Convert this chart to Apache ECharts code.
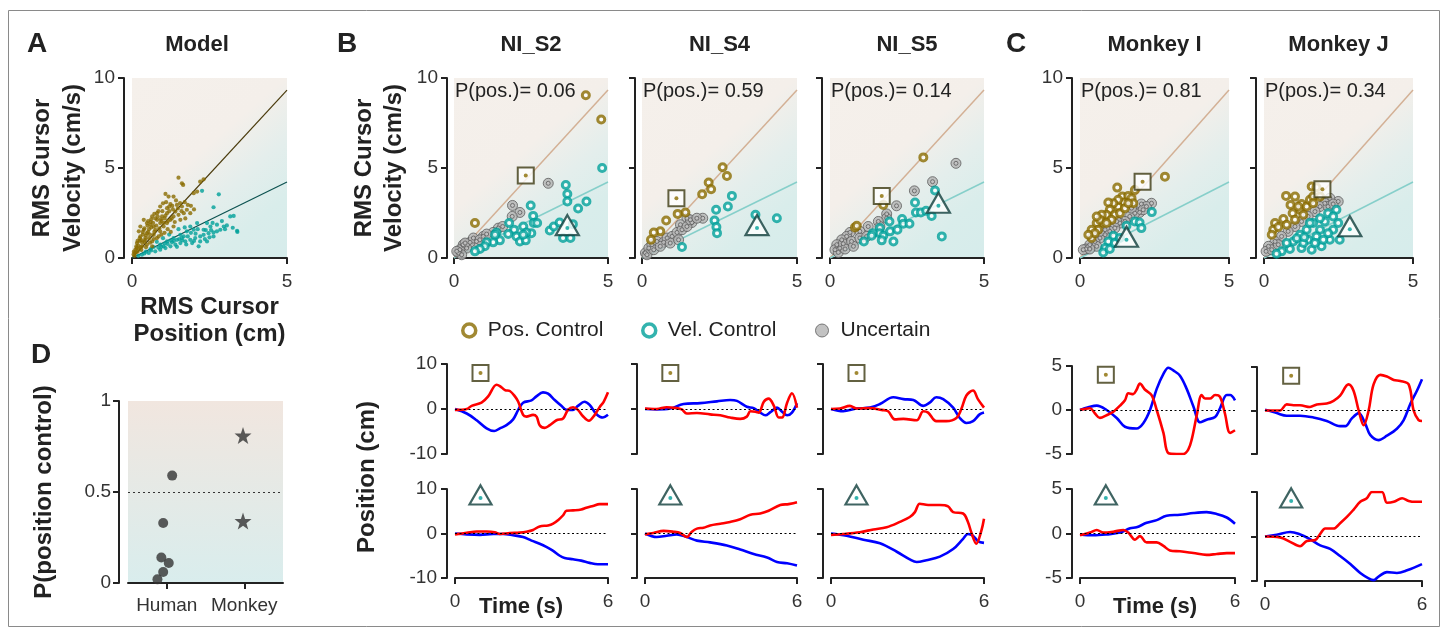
<!DOCTYPE html>
<html><head><meta charset="utf-8">
<script src="https://cdn.jsdelivr.net/npm/echarts@6/dist/echarts.min.js"></script>
<style>html,body{margin:0;padding:0;background:#fff}#c{width:1448px;height:635px}</style>
</head><body><div id="c"></div>
<script>
// ---------------- DATA ----------------
const modelPos = [[1.5,4.46],[1.61,4.15],[1.65,4.06],[2.2,4.24],[2.31,4.37],[2.1,3.69],[1.99,3.6],[1.08,3.56],[1.18,3.41],[1.34,3.41],[1.0,3.04],[1.24,3.0],[1.45,2.95],[1.61,2.86],[1.77,2.68],[1.88,2.49],[0.91,2.86],[0.81,2.49],[0.65,2.31],[0.48,1.94],[0.38,1.57],[0.27,1.2],[0.16,0.83],[1.13,2.49],[1.34,2.31],[1.56,2.12],[0.7,1.75],[0.91,1.94],[1.13,1.94],[1.34,1.75],[0.48,1.38],[0.7,1.29],[0.91,1.48],[0.32,0.65],[0.48,0.74],[0.65,0.92],[0.11,0.46],[0.22,0.5],[1.13,2.77],[1.4,2.58],[0.81,2.12],[0.59,1.85],[0.43,1.11],[1.67,2.49],[0.97,2.31],[0.75,1.57],[1.24,2.12],[0.38,2.12],[0.27,1.75],[0.22,1.48],[1.02,1.75],[0.86,1.2],[0.65,0.65],[0.05,0.2],[0.1,0.3],[0.15,0.55],[0.2,0.7],[0.25,0.95],[0.3,1.0],[0.35,1.3],[0.55,1.6],[0.6,2.0],[0.75,2.2],[0.85,2.6],[0.95,2.05],[1.05,2.2],[1.2,2.6],[1.3,2.9],[1.5,2.4],[1.72,2.2],[1.9,2.9],[2.0,2.7],[0.55,1.1],[0.4,0.9],[0.3,0.45],[1.15,1.6],[1.25,1.45],[0.12,0.3],
  [0.08,0.12],[0.18,0.35],[0.28,0.6],[0.33,0.85],[0.42,1.0],[0.45,1.25],[0.52,1.45],[0.58,1.3],[0.62,1.7],[0.68,1.95],[0.72,1.45],[0.78,1.8],[0.83,2.3],[0.88,1.65],[0.93,2.15],[0.98,2.6],[1.03,1.95],[1.08,2.35],[1.1,3.1],[1.16,2.05],[1.2,2.85],[1.28,2.2],[1.32,2.7],[1.38,2.0],[1.42,3.2],[1.48,2.75],[1.55,3.05],[1.6,2.6],[1.7,3.1],[1.8,2.95],[0.4,1.65],[0.5,1.8],[0.35,1.45],[0.25,1.1],[0.18,0.95],[0.14,0.65],[0.06,0.35],[0.45,0.6],[0.58,0.85],[0.7,1.05],[0.8,1.1],[0.95,1.3],[1.05,1.4],[0.62,2.15],[0.72,2.45],[0.52,2.05]];
const modelVel = [[2.26,3.73],[2.8,3.54],[2.63,2.82],[3.28,2.34],[3.17,2.31],[3.39,1.51],[3.06,1.81],[2.96,1.75],[2.85,1.57],[2.74,1.48],[2.63,1.42],[2.47,1.38],[2.31,1.29],[2.2,1.2],[2.42,0.92],[2.2,0.92],[2.04,1.11],[1.88,1.01],[1.72,0.92],[1.56,0.83],[1.4,0.74],[1.24,0.65],[1.08,0.55],[0.91,0.46],[0.75,0.37],[0.54,0.28],[0.32,0.18],[1.99,1.57],[1.77,1.48],[1.56,1.29],[1.34,1.11],[1.13,0.92],[0.91,0.74],[0.7,0.61],[2.1,1.94],[1.88,1.75],[1.67,1.2],[1.45,1.01],[2.31,1.57],[2.53,1.75],[2.74,1.85],[2.42,1.94],[1.94,0.83],[2.63,1.2],[1.61,1.11],[1.29,0.87],[1.02,0.65],[2.15,0.65],[3.4,1.45],[1.2,1.3],[1.0,1.1],[0.8,0.9],[0.6,0.5],[0.45,0.35],[1.5,1.6],[1.7,1.7],[0.2,0.12],
  [0.4,0.25],[0.62,0.42],[0.85,0.58],[1.15,0.78],[1.35,0.95],[1.52,1.05],[1.8,1.2],[1.9,1.4],[2.05,1.35],[2.12,1.6],[2.38,1.55],[2.55,1.55],[2.6,1.95],[2.9,2.05],[2.35,1.05],[1.45,0.62],[1.75,0.75],[2.0,0.95],[1.05,0.8],[1.25,0.98],[0.95,0.62],[1.62,0.98],[2.5,1.15],[3.0,1.6],[3.25,1.68]];

const panelTitles = ['NI_S2','NI_S4','NI_S5','Monkey I','Monkey J'];
const pPos = [0.06, 0.59, 0.14, 0.81, 0.34];
const posLineEnd = 9.33;   // y of position-control line at x = 5
const velLineEnd = 4.22;   // y of velocity-control line at x = 5

const s2Pos = [[0.68,1.94],[4.28,9.04],[4.78,7.69]];
const s2Vel = [[4.81,5.0],[3.63,4.06],[3.68,3.56],[3.68,3.14],[4.30,3.14],[4.03,2.75],[2.49,2.92],[2.57,2.34],[2.59,1.94],[2.7,1.94],[2.25,1.75],[1.95,1.57],[1.79,1.94],[1.76,1.33],[2.03,1.2],[2.14,0.92],[2.33,0.98],[2.51,1.38],[2.35,1.42],[1.38,1.42],[1.49,0.98],[1.27,0.87],[1.06,0.87],[1.0,0.65],[0.84,0.5],[0.68,0.37],[3.11,1.53],[3.24,1.75],[3.43,1.97],[3.54,1.11],[3.78,1.11],[3.86,1.88],[1.33,1.29],[2.25,1.29]];
const s2Unc = [[3.06,4.15],[1.9,2.92],[2.14,2.53],[1.89,2.31],[1.44,1.66],[1.58,1.75],[1.27,1.42],[0.95,1.2],[0.73,0.92],[0.52,0.87],[0.3,0.74],[0.41,0.55],[0.19,0.46],[0.14,0.28],[0.25,0.18],[0.63,1.11],[1.06,1.33],[0.84,1.01],[0.36,0.83],[0.09,0.37]];
const s2Sq = [2.33,4.58], s2Tri = [3.68,1.66];

const s4Pos = [[2.6,5.04],[2.74,4.56],[2.15,4.19],[2.23,3.82],[1.94,3.54],[1.4,2.53],[1.15,2.45],[0.78,2.08],[0.59,1.48],[0.38,1.42],[0.29,1.01]];
const s4Vel = [[2.9,3.45],[2.77,2.86],[2.39,2.68],[2.34,2.08],[2.4,1.72],[2.42,1.38],[3.66,2.4],[4.35,2.21],[1.29,0.61]];
const s4Unc = [[1.96,2.21],[1.61,1.97],[1.45,2.21],[1.24,1.85],[0.11,0.28],[0.22,0.55],[0.32,0.74],[0.48,0.92],[0.7,0.87],[0.81,1.11],[0.97,1.2],[1.13,1.42],[1.29,1.57],[1.45,1.75],[1.56,2.12],[0.16,0.18],[0.38,0.46],[0.59,0.65],[0.91,0.83],[1.18,1.01],[1.77,2.21]];
const s4Sq = [1.11,3.32], s4Tri = [3.71,1.66];

const s5Pos = [[3.03,5.59],[0.81,1.7],[0.87,1.79],[1.73,2.95]];
const s5Vel = [[3.41,3.75],[2.76,3.08],[2.79,2.53],[2.95,2.53],[3.12,2.62],[3.3,2.34],[2.34,2.16],[2.38,1.9],[2.58,1.9],[1.93,2.03],[1.62,1.66],[1.6,1.38],[1.39,1.38],[1.35,1.24],[1.73,1.24],[1.95,1.48],[2.19,1.57],[2.06,0.92],[1.68,0.98],[1.1,0.92],[3.63,1.2]];
const s5Unc = [[4.09,5.26],[3.33,4.24],[2.74,3.73],[2.16,2.9],[1.84,2.45],[1.84,2.21],[1.57,2.03],[1.24,1.75],[0.97,1.48],[0.65,1.42],[0.54,1.2],[0.38,1.01],[0.22,0.74],[0.16,0.46],[0.32,0.55],[0.43,0.79],[0.7,0.92],[0.97,1.11],[1.19,1.2],[1.62,1.75],[0.27,0.31],[0.49,0.5],[0.76,0.65]];
const s5Sq = [1.68,3.45], s5Tri = [3.52,2.9];

const mIPos = [[2.85,4.52],[1.25,3.91],[1.42,3.41],[1.62,3.45],[1.73,3.32],[1.84,3.78],[1.79,3.04],[1.47,3.08],[1.28,2.86],[1.28,3.23],[1.12,3.04],[0.95,3.08],[1.0,2.68],[1.17,2.4],[0.89,2.4],[0.73,2.4],[0.78,1.94],[0.56,1.94],[0.61,1.57],[0.39,1.57],[0.39,1.11],[0.5,1.38],[0.67,2.12],[1.06,2.12],[1.34,2.49],[1.51,2.77],[1.62,3.04],[0.56,2.31],[0.28,1.29],[0.89,1.94]];
const mIUnc = [[2.4,3.04],[2.06,3.0],[2.0,2.53],[1.84,2.49],[1.67,2.31],[1.51,2.03],[1.34,1.94],[1.17,1.66],[1.0,1.48],[0.84,1.29],[0.67,1.11],[0.5,0.92],[0.33,0.74],[0.2,0.5],[0.11,0.46],[0.56,0.65],[0.33,0.5],[1.73,2.77],[2.23,2.86],[1.23,2.03],[0.84,1.57],[0.67,1.48],[2.12,2.68]];
const mIVel = [[2.41,2.55],[1.84,2.03],[2.0,1.97],[2.06,1.66],[1.56,1.79],[1.12,1.24],[0.95,0.92],[0.84,0.55],[0.78,0.31],[1.0,0.5],[1.17,0.83],[1.34,1.11]];
const mISq = [2.1,4.24], mITri = [1.56,1.01];

const mJPos = [[0.74,3.45],[1.04,3.41],[1.6,3.97],[1.76,3.93],[0.89,2.95],[1.26,3.0],[0.37,1.94],[0.65,2.16],[0.96,2.49],[1.21,2.68],[1.43,2.86],[1.54,3.23],[1.65,3.41],[0.31,1.57],[0.48,1.72],[0.76,1.85],[1.04,2.12],[1.32,2.4],[1.15,2.86],[0.26,1.29],[1.65,3.04],[1.88,3.41]];
const mJUnc = [[2.49,3.14],[2.21,3.32],[2.04,3.04],[1.88,2.86],[1.71,2.58],[1.48,2.31],[1.26,2.03],[1.04,1.75],[0.81,1.48],[0.59,1.2],[0.37,0.92],[0.15,0.65],[0.07,0.37],[0.26,0.46],[0.48,0.74],[2.15,2.86],[2.32,3.0]];
const mJVel = [[2.43,2.68],[2.15,2.49],[2.32,2.31],[2.49,1.94],[2.54,1.01],[2.21,1.01],[1.93,0.65],[1.6,0.46],[1.26,0.55],[0.87,0.5],[0.59,0.37],[0.42,0.24],[1.88,1.57],[1.65,1.94],[1.43,1.57],[1.21,1.29],[0.98,0.92],[0.76,0.83],[2.04,2.03],[1.76,1.2],[1.48,1.01],[2.32,1.57],[2.15,1.38],[1.88,2.21],[1.54,1.94],[1.71,0.83],[1.32,0.83],[1.99,1.01],[1.1,1.1],[1.35,1.15]];
const mJSq = [1.96,3.82], mJTri = [2.88,1.6];

// trajectories: [time (s), position (cm)]
const s2TopRed = [[0,-0.2],[0.46,0],[0.65,0.7],[1.04,1.4],[1.3,2.8],[1.63,5.4],[1.76,5.1],[1.96,4.2],[2.15,4.0],[2.35,2.8],[2.48,1.6],[2.67,-1.3],[2.8,-1.7],[3.06,-1.3],[3.2,-1.7],[3.32,-3.6],[3.52,-4.2],[3.72,-3.6],[3.98,-2.5],[4.24,-2.1],[4.43,-0.2],[4.63,0.4],[4.82,-0.2],[5.02,-1.6],[5.25,-2.6],[5.48,-1.3],[5.67,0.4],[5.83,1.6],[6.0,3.7]];
const s2TopBlue = [[0,0],[0.46,-1],[0.85,-2.5],[1.24,-4.3],[1.54,-4.9],[1.76,-4.3],[2.02,-3.6],[2.28,-2.3],[2.48,-0.2],[2.67,1.4],[3.0,1.9],[3.19,2.8],[3.45,3.7],[3.65,3.4],[3.91,2.0],[4.17,0.7],[4.37,-0.2],[4.63,-0.2],[4.82,0.7],[5.08,1.6],[5.28,0.9],[5.54,-1.1],[5.8,-1.9],[6.0,-1.3]];
const s2BotRed = [[0,-0.2],[0.46,0.15],[0.85,0.45],[1.24,0.45],[1.56,0.3],[1.76,-0.1],[2.15,0.1],[2.54,0.2],[2.8,0.4],[3.06,0.8],[3.32,1.6],[3.65,1.8],[3.85,2.2],[4.04,3.0],[4.24,4.1],[4.37,5.1],[4.63,5.2],[4.95,5.4],[5.15,5.8],[5.41,6.2],[5.67,6.6],[6,6.6]];
const s2BotBlue = [[0,0],[0.46,-0.2],[0.98,-0.3],[1.5,-0.1],[1.89,-0.1],[2.28,-0.4],[2.67,-0.8],[3.0,-1.6],[3.32,-2.3],[3.58,-3.0],[3.85,-3.9],[4.11,-5.0],[4.3,-5.5],[4.63,-5.8],[4.95,-6.1],[5.28,-6.6],[5.6,-6.9],[6,-6.9]];
const s4TopBlue = [[0,0],[0.46,-0.1],[0.99,0.1],[1.52,1.1],[2.18,1.3],[2.84,1.7],[3.36,2.0],[3.63,1.8],[4.02,0.5],[4.29,0.2],[4.55,-0.8],[4.75,-1.4],[4.95,-0.7],[5.21,0.3],[5.41,-0.6],[5.61,-1.4],[5.8,-0.8],[6,1.3]];
const s4TopRed = [[0,0.1],[0.46,0],[0.86,0.4],[1.25,0.2],[1.45,-0.1],[1.65,-1.0],[2.05,-0.9],[2.57,-1.2],[2.97,-1.4],[3.36,-1.9],[3.76,-2.2],[4.02,-1.7],[4.16,-0.5],[4.36,-0.6],[4.49,-0.8],[4.69,1.6],[4.88,2.3],[5.08,0.8],[5.28,-1.9],[5.41,-1.9],[5.61,1.4],[5.8,3.5],[6,0.3]];
const s4BotRed = [[0,-0.2],[0.33,0.1],[0.73,0.6],[1.12,0.4],[1.39,0.1],[1.65,-0.8],[1.85,0.4],[2.05,1.1],[2.31,1.3],[2.57,1.8],[2.97,2.2],[3.36,2.6],[3.76,3.2],[4.16,4.2],[4.55,4.5],[4.88,5.1],[5.34,6.4],[5.67,6.6],[6,7.0]];
const s4BotBlue = [[0,0],[0.46,-0.8],[0.86,-0.5],[1.25,-0.2],[1.65,-0.8],[2.05,-1.6],[2.57,-2.0],[3.23,-2.7],[3.76,-3.6],[4.29,-4.6],[4.82,-5.4],[5.21,-6.4],[5.61,-6.7],[6,-7.2]];
const s5TopBlue = [[0,0],[0.48,-0.5],[1.0,0.1],[1.53,0.3],[1.92,1.1],[2.44,2.6],[2.84,2.2],[3.23,2.0],[3.62,0.7],[3.87,1.4],[4.13,2.6],[4.4,2.2],[4.79,0.3],[5.05,-2.0],[5.31,-3.1],[5.57,-2.7],[5.83,-1.2],[6,-0.8]];
const s5TopRed = [[0,0],[0.35,0.1],[0.74,0.7],[1.0,0.1],[1.53,0.2],[1.98,-0.2],[2.24,-0.5],[2.5,-2.3],[2.84,-2.2],[3.36,-2.5],[3.62,-0.5],[3.81,-0.8],[4.13,-2.7],[4.52,-2.7],[4.92,-2.0],[5.11,0],[5.31,3.0],[5.57,4.1],[5.76,2.2],[6,0.3]];
const s5BotRed = [[0,-0.3],[0.48,-0.1],[1.13,0.3],[1.66,0.9],[2.18,1.4],[2.7,2.6],[3.09,3.7],[3.29,4.8],[3.48,6.7],[3.81,6.4],[4.27,6.4],[4.59,6.1],[4.79,4.8],[5.18,4.5],[5.37,2.6],[5.5,0.3],[5.7,-2.3],[5.9,0.7],[6,3.3]];
const s5BotBlue = [[0,0],[0.61,-0.5],[1.27,-1.4],[1.92,-2.2],[2.58,-4.1],[3.09,-5.8],[3.36,-6.4],[3.74,-6.0],[4.27,-5.2],[4.79,-3.5],[5.18,-1.2],[5.37,-0.1],[5.57,-0.5],[5.76,-1.7],[6,-2.1]];
const mITopRed = [[0,0],[0.39,0.2],[0.58,-0.4],[0.77,-0.9],[1.03,-0.6],[1.29,-0.2],[1.55,0.5],[1.74,1.1],[1.87,1.9],[2.06,1.8],[2.19,2.3],[2.32,3.0],[2.52,2.3],[2.77,1.7],[2.97,0],[3.23,-2.6],[3.42,-4.9],[3.74,-5],[4.0,-5],[4.19,-4.5],[4.32,-3.4],[4.52,-0.6],[4.71,1.7],[4.84,1.3],[5.03,1.3],[5.23,1.7],[5.42,1.5],[5.61,-0.4],[5.81,-2.6],[6,-2.3]];
const mITopBlue = [[0,0],[0.32,0.3],[0.65,0.5],[1.03,0],[1.42,-0.9],[1.74,-1.9],[2.19,-2.1],[2.45,-1.5],[2.71,0],[2.97,2.4],[3.23,4.1],[3.42,4.8],[3.61,4.5],[3.87,3.9],[4.13,2.4],[4.39,0.4],[4.65,-1.4],[4.9,-1.1],[5.23,-0.8],[5.42,0.2],[5.68,1.7],[5.81,1.7],[6,1.1]];
const mIBotBlue = [[0,-0.1],[0.52,-0.2],[1.03,-0.1],[1.55,0.1],[1.94,0.6],[2.19,0.7],[2.58,1.2],[2.97,1.5],[3.35,2.0],[3.87,2.1],[4.39,2.3],[4.9,2.4],[5.29,2.2],[5.68,1.8],[6,1.1]];
const mIBotRed = [[0,-0.2],[0.39,0.1],[0.65,0.4],[0.9,0.1],[1.29,0.2],[1.68,0.4],[1.87,0.1],[2.13,-0.7],[2.32,-0.3],[2.58,-1.0],[2.97,-1.0],[3.23,-1.4],[3.48,-1.9],[3.87,-2.0],[4.39,-2.2],[4.9,-2.4],[5.29,-2.3],[5.68,-2.2],[6,-2.2]];
const mJTopRed = [[0,0],[0.57,0],[0.83,0.7],[1.09,0.6],[1.34,0.6],[1.72,0.4],[1.98,0.7],[2.36,0.8],[2.62,1.1],[2.87,1.7],[3.19,3.0],[3.38,2.3],[3.58,0],[3.77,-1.7],[3.96,0],[4.15,3.0],[4.41,4.1],[4.66,3.9],[4.92,3.5],[5.17,3.4],[5.49,3.0],[5.68,0],[5.87,-1.1],[6,-1.2]];
const mJTopBlue = [[0,0.1],[0.45,-0.3],[0.83,-0.6],[1.34,-0.6],[1.85,-0.8],[2.36,-1.2],[2.87,-1.8],[3.07,-1.8],[3.32,-0.9],[3.58,-0.3],[3.83,-1.5],[4.02,-2.8],[4.34,-3.4],[4.66,-2.9],[5.04,-2.1],[5.3,-1.1],[5.56,0.8],[5.81,2.3],[6,3.6]];
const mJBotRed = [[0,0],[0.57,-0.1],[0.96,-0.6],[1.34,-1.1],[1.6,-0.5],[1.92,-0.4],[2.11,0.3],[2.3,0.9],[2.62,0.9],[2.87,1.5],[3.13,2.2],[3.38,3.0],[3.64,3.9],[3.89,4.3],[4.09,5.0],[4.47,5.0],[4.66,3.8],[4.92,3.9],[5.24,4.3],[5.49,4.0],[5.74,3.9],[6,3.9]];
const mJBotBlue = [[0,0],[0.45,0.2],[0.96,0.5],[1.28,0.3],[1.72,-0.3],[2.11,-1.0],[2.49,-1.4],[2.87,-2.2],[3.26,-3.1],[3.64,-4.1],[3.96,-4.7],[4.15,-4.9],[4.34,-4.5],[4.66,-4.0],[5.04,-4.1],[5.43,-3.8],[6,-3.1]];

const iconPosHuman = [1, 8], iconPosMonkey = [1, 4];   // where the square/triangle example icons sit

const dCategories = ['Human','Monkey'];
const dHuman = [[0.19,0.02],[0.227,0.06],[0.263,0.11],[0.215,0.14],[0.227,0.33],[0.285,0.59]];
const dMonkey = [[0.742,0.81],[0.742,0.34]];

const legendNames = ['Pos. Control','Vel. Control','Uncertain'];

// ---------------- STYLE ----------------
const FONT = "'Liberation Sans', Arial, Helvetica, sans-serif";
const NARROW = "'Liberation Sans Narrow', 'Liberation Sans', Arial, sans-serif";
const GOLD = '#8a6c00', TEAL = '#00a09a', AXC = '#222', LBC = '#333';
const TITLE_SIZE = 24;
const bgGrad = {type:'linear', x:0, y:0, x2:1, y2:1, colorStops:[
  {offset:0, color:'#f5f0eb'},{offset:0.42, color:'#f4efea'},{offset:0.62, color:'#e4eeec'},{offset:0.8, color:'#d9edeb'},{offset:1, color:'#d6eceb'}]};
const bgGradD = {type:'linear', x:0, y:0, x2:0, y2:1, colorStops:[
  {offset:0, color:'#f1e6df'},{offset:1, color:'#d9eded'}]};

const grids = [], xAxes = [], yAxes = [], series = [];

function mkAxis(gi, o){
  const a = {
    type:'value', gridIndex:gi, min:o.min, max:o.max, interval:o.interval,
    position:o.position, offset:o.offset||0,
    axisLine:{show:o.line!==false, onZero:false, lineStyle:{color:AXC, width:2}},
    axisTick:{show:o.tick!==false, length:6, lineStyle:{color:AXC, width:2}},
    axisLabel:{show:!!o.label, color:LBC, fontSize:19, fontFamily:FONT, margin:o.margin||8},
    splitLine:{show:false},
    name:o.name||'', nameLocation:'middle', nameGap:o.nameGap||0,
    nameTextStyle:{color:'#222', fontSize:TITLE_SIZE, fontWeight:'bold', fontFamily:FONT, lineHeight:o.nameLH||30}
  };
  if (o.nameRotate !== undefined) a.nameRotate = o.nameRotate;
  return a;
}
function panel(g, bg, xo, yo){
  const gi = grids.length;
  grids.push(Object.assign({show:!!bg, backgroundColor:bg||'transparent', borderWidth:0, containLabel:false, outerBoundsMode:'none'}, g));
  xAxes.push(mkAxis(gi, Object.assign({position:'bottom'}, xo)));
  yAxes.push(mkAxis(gi, Object.assign({position:'left'}, yo)));
  return {x:xAxes.length-1, y:yAxes.length-1};
}
function refLines(ax, posColor, velColor, w){
  series.push({type:'line', xAxisIndex:ax.x, yAxisIndex:ax.y, data:[[0,0],[5,posLineEnd]], symbol:'none', silent:true, z:1, lineStyle:{color:posColor, width:w}});
  series.push({type:'line', xAxisIndex:ax.x, yAxisIndex:ax.y, data:[[0,0],[5,velLineEnd]], symbol:'none', silent:true, z:1, lineStyle:{color:velColor, width:w}});
}
function sc(ax, name, data, size, style, z, extra){
  series.push(Object.assign({type:'scatter', name:name, xAxisIndex:ax.x, yAxisIndex:ax.y, data:data, symbol:'circle', symbolSize:size, itemStyle:style, z:z, silent:true}, extra||{}));
}
function icons(ax, sqPos, triPos, sqSize, triSize){
  if (sqPos){
    sc(ax, 'sqIcon', [sqPos], sqSize, {color:'#fff', borderColor:'#3c3a12', borderWidth:2}, 8, {symbol:'rect'});
    sc(ax, 'sqDot', [sqPos], 4, {color:GOLD}, 9);
  }
  if (triPos){
    sc(ax, 'triIcon', [triPos], triSize, {color:'#fff', borderColor:'#0f3d3b', borderWidth:2.2}, 8, {symbol:'triangle', symbolOffset:[0,-3]});
    sc(ax, 'triDot', [triPos], 4, {color:TEAL}, 9);
  }
}

// ---- Panel A (model)
const aA = panel({left:132, top:78, width:155, height:180}, bgGrad,
  {min:0, max:5, interval:5, label:true, margin:14, name:'RMS Cursor\nPosition (cm)', nameGap:36, nameLH:27},
  {min:0, max:10, interval:5, label:true, offset:8, margin:9, name:'RMS Cursor\nVelocity (cm/s)', nameGap:35, nameLH:31});
refLines(aA, '#4a3a0c', '#0c5250', 1.2);
sc(aA, 'modelVel', modelVel, 4.2, {color:TEAL}, 3);
sc(aA, 'modelPos', modelPos, 4.2, {color:GOLD}, 3);

// ---- Panels B/C scatter
const scatterPanels = [
  {g:{left:454, top:78, width:154, height:180}, off:7, pos:s2Pos, vel:s2Vel, unc:s2Unc, sq:s2Sq, tri:s2Tri, ylab:true},
  {g:{left:642, top:78, width:155, height:180}, off:7, pos:s4Pos, vel:s4Vel, unc:s4Unc, sq:s4Sq, tri:s4Tri, ylab:false},
  {g:{left:830, top:78, width:154, height:180}, off:8, pos:s5Pos, vel:s5Vel, unc:s5Unc, sq:s5Sq, tri:s5Tri, ylab:false},
  {g:{left:1080, top:78, width:149, height:180}, off:8, pos:mIPos, vel:mIVel, unc:mIUnc, sq:mISq, tri:mITri, ylab:true},
  {g:{left:1264, top:78, width:149, height:180}, off:8, pos:mJPos, vel:mJVel, unc:mJUnc, sq:mJSq, tri:mJTri, ylab:false}
];
scatterPanels.forEach((p, i) => {
  const yo = {min:0, max:10, interval:5, label:p.ylab, offset:p.off, margin:9};
  if (i === 0){ yo.name = 'RMS Cursor\nVelocity (cm/s)'; yo.nameGap = 38; yo.nameLH = 30; }
  const ax = panel(p.g, bgGrad, {min:0, max:5, interval:5, label:true, margin:14}, yo);
  refLines(ax, '#d3b095', '#86cfca', 1.5);
  sc(ax, 'Uncertain', p.unc, 10, {color:'#b3b3b3', borderColor:'#5c5c5c', borderWidth:1}, 2);
  sc(ax, 'uncInner', p.unc, 4, {color:'#c4c4c4', borderColor:'#5c5c5c', borderWidth:1}, 3);
  sc(ax, 'Pos. Control', p.pos, 7, {color:'#fff', borderColor:GOLD, borderWidth:3}, 4);
  sc(ax, 'Vel. Control', p.vel, 7, {color:'#fff', borderColor:TEAL, borderWidth:3}, 5);
  icons(ax, p.sq, p.tri, 16, [23,20]);
});

// ---- Trajectory panels
const linePanels = [
  {g:{left:455, top:364, width:153, height:90}, red:s2TopRed, blue:s2TopBlue, ylab:true, xlab:false, lim:10, icon:'sq'},
  {g:{left:645, top:364, width:152, height:90}, red:s4TopRed, blue:s4TopBlue, ylab:false, xlab:false, lim:10, icon:'sq'},
  {g:{left:831, top:364, width:153, height:90}, red:s5TopRed, blue:s5TopBlue, ylab:false, xlab:false, lim:10, icon:'sq'},
  {g:{left:455, top:489, width:153, height:89}, red:s2BotRed, blue:s2BotBlue, ylab:true, xlab:true, lim:10, icon:'tri'},
  {g:{left:645, top:489, width:152, height:89}, red:s4BotRed, blue:s4BotBlue, ylab:false, xlab:true, lim:10, icon:'tri'},
  {g:{left:831, top:489, width:153, height:89}, red:s5BotRed, blue:s5BotBlue, ylab:false, xlab:true, lim:10, icon:'tri'},
  {g:{left:1080, top:366, width:155, height:88}, red:mITopRed, blue:mITopBlue, ylab:true, xlab:false, lim:5, icon:'sq'},
  {g:{left:1265, top:367, width:157, height:87}, red:mJTopRed, blue:mJTopBlue, ylab:false, xlab:false, lim:5, icon:'sq'},
  {g:{left:1080, top:489, width:155, height:89}, red:mIBotRed, blue:mIBotBlue, ylab:true, xlab:true, lim:5, icon:'tri'},
  {g:{left:1265, top:492, width:157, height:89}, red:mJBotRed, blue:mJBotBlue, ylab:false, xlab:true, lim:5, icon:'tri'}
];
linePanels.forEach(p => {
  const ax = panel(p.g, null,
    {min:0, max:6, interval:6, label:p.xlab, line:p.xlab, tick:p.xlab, margin:14},
    {min:-p.lim, max:p.lim, interval:p.lim, label:p.ylab, offset:8, margin:10});
  series.push({type:'line', xAxisIndex:ax.x, yAxisIndex:ax.y, data:p.blue, showSymbol:false, symbol:'none', smooth:0.35, silent:true, z:3,
    lineStyle:{color:'#0000ff', width:2.6},
    markLine:{silent:true, symbol:['none','none'], label:{show:false}, animation:false,
      lineStyle:{type:[2,2.5], color:'#000', width:1}, data:[{yAxis:0}]}});
  series.push({type:'line', xAxisIndex:ax.x, yAxisIndex:ax.y, data:p.red, showSymbol:false, symbol:'none', smooth:0.35, silent:true, z:4,
    lineStyle:{color:'#ff0000', width:2.6}});
  const ip = p.lim === 10 ? iconPosHuman : iconPosMonkey;
  if (p.icon === 'sq') icons(ax, ip, null, 16, null);
  else icons(ax, null, ip, [22,19], [22,19]);
});

// ---- Panel D
const gD = grids.length;
grids.push({left:128, top:401, width:155, height:182, show:true, backgroundColor:bgGradD, borderWidth:0, containLabel:false, outerBoundsMode:'none'});
xAxes.push({type:'category', gridIndex:gD, data:dCategories, boundaryGap:true,
  axisLine:{show:true, onZero:false, lineStyle:{color:AXC, width:2}},
  axisTick:{show:true, alignWithLabel:true, interval:0, length:6, lineStyle:{color:AXC, width:2}},
  axisLabel:{show:true, interval:0, color:LBC, fontSize:19, fontFamily:FONT, margin:13}, splitLine:{show:false}});
const dxVal = xAxes.length;
xAxes.push({type:'value', gridIndex:gD, min:0, max:1, show:false, splitLine:{show:false}});
const dy = yAxes.length;
yAxes.push(mkAxis(gD, {position:'left', min:0, max:1, interval:0.5, label:true, offset:9, margin:8,
  name:'P(position control)', nameGap:60}));
series.push({type:'scatter', name:'human', xAxisIndex:dxVal, yAxisIndex:dy, data:dHuman, symbol:'circle', symbolSize:10,
  itemStyle:{color:'#333'}, silent:true, z:4,
  markLine:{silent:true, symbol:['none','none'], label:{show:false}, animation:false,
    lineStyle:{type:[2,3], color:'#333', width:1}, data:[{yAxis:0.5}]}});
series.push({type:'scatter', name:'monkey', xAxisIndex:dxVal, yAxisIndex:dy, data:dMonkey,
  symbol:'path://M0,-10 L2.35,-3.24 L9.51,-3.09 L3.8,1.24 L5.88,8.09 L0,4 L-5.88,8.09 L-3.8,1.24 L-9.51,-3.09 L-2.35,-3.24 Z',
  symbolSize:17, itemStyle:{color:'#333'}, silent:true, z:4});

// ---- Text
function txt(x, y, text, size, weight, align, rot, font){
  return {type:'text', x:x, y:y, rotation:rot||0, silent:true, z:100,
    style:{text:text, fill:'#222', font:(weight||'normal')+' '+size+'px '+(font||FONT),
      align:align||'center', textAlign:align||'center', verticalAlign:'middle', textVerticalAlign:'middle'}};
}
const graphics = [
  {type:'rect', shape:{x:8.5, y:10.5, width:1431, height:616}, style:{fill:'none', stroke:'#8a8a8a', lineWidth:1}, silent:true, z:-1},
  txt(37, 44, 'A', 28, 'bold'), txt(347, 44, 'B', 28, 'bold'), txt(1016, 44, 'C', 28, 'bold'), txt(41, 355, 'D', 28, 'bold'),
  txt(197, 45, 'Model', 22, 'bold'),
  txt(367, 477, 'Position (cm)', TITLE_SIZE, 'bold', 'center', Math.PI/2),
  txt(521, 607, 'Time (s)', 22, 'bold'), txt(1155, 607, 'Time (s)', 22, 'bold')
];
scatterPanels.forEach((p, i) => {
  graphics.push(txt(p.g.left + p.g.width/2, 45, panelTitles[i], 22, 'bold'));
  graphics.push(txt(p.g.left + 1, 91, 'P(pos.)= ' + pPos[i].toFixed(2), 20, 'normal', 'left'));
});

const legendCommon = {orient:'horizontal', itemWidth:13, itemHeight:13, selectedMode:false, top:315,
  textStyle:{fontSize:21, color:'#222', fontFamily:NARROW, padding:[0,0,0,7]}};
const legendIcons = [
  {color:'#fff', borderColor:GOLD, borderWidth:3.5},
  {color:'#fff', borderColor:TEAL, borderWidth:3.5},
  {color:'#b3b3b3', borderColor:'#5c5c5c', borderWidth:1}
];
const legendLeft = [456, 636, 810];
const legends = legendNames.map((n, i) => Object.assign({}, legendCommon, {left:legendLeft[i],
  data:[{name:n, icon:'circle', itemStyle:legendIcons[i]}]}));

const chart = echarts.init(document.getElementById('c'), null, {renderer:'canvas'});
chart.setOption({animation:false, backgroundColor:'#fff', grid:grids, xAxis:xAxes, yAxis:yAxes, series:series, legend:legends, graphic:graphics});
</script></body></html>
